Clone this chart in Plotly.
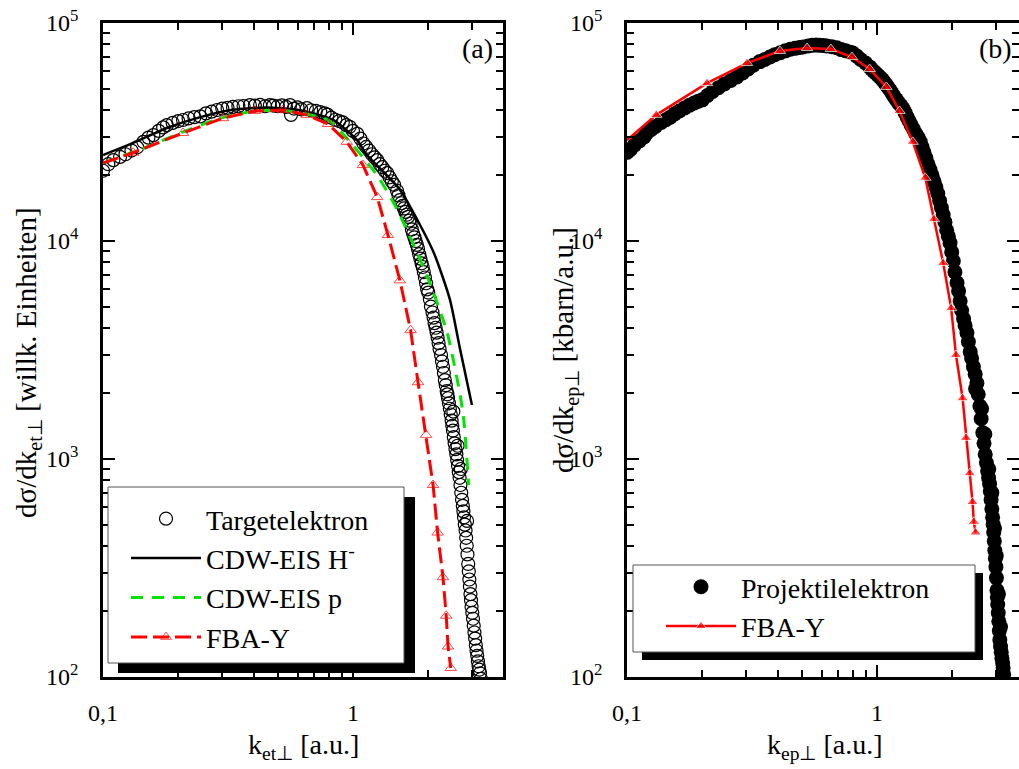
import plotly.graph_objects as go

# ---------------- data: panel (a) ----------------
target_x = [0.100, 0.105, 0.110, 0.117, 0.123, 0.130, 0.137, 0.145, 0.152, 0.159, 0.167, 0.174, 0.180, 0.190,
            0.200, 0.209, 0.220, 0.232, 0.245, 0.258, 0.272, 0.286, 0.300, 0.315, 0.331, 0.348, 0.365, 0.387,
            0.405, 0.425, 0.445, 0.465, 0.480, 0.500, 0.520, 0.540, 0.560, 0.565, 0.580, 0.600, 0.620, 0.654,
            0.680, 0.710, 0.740, 0.770, 0.790, 0.820, 0.850, 0.880, 0.910, 0.940, 0.970, 1.000, 1.040, 1.070,
            1.100, 1.130, 1.160, 1.190, 1.220, 1.250, 1.280, 1.310, 1.340, 1.370, 1.400, 1.430, 1.460, 1.500,
            1.540, 1.580, 1.620, 1.660, 1.700, 1.740, 1.780, 1.820, 1.860, 1.900, 1.940, 1.980, 2.030, 2.080,
            2.120, 2.160, 2.200, 2.250, 2.290, 2.330, 2.370, 2.400, 2.440, 2.480, 2.510, 2.550, 2.590, 2.630,
            2.670, 2.710, 2.750, 2.780, 2.820, 2.850, 2.890, 2.920, 2.950, 2.980, 3.020, 3.060, 3.100, 3.140,
            3.180, 3.220, 3.250,
            1.520, 1.560, 1.600, 1.640, 1.680, 1.720, 1.760, 1.800, 1.840, 1.880, 1.920, 1.960, 2.000, 2.050,
            2.100, 2.140, 2.180, 2.220, 2.270, 2.310, 2.350, 2.385, 2.420, 2.460, 2.495, 2.530, 2.570, 2.610,
            2.650, 2.690, 2.730, 2.765, 2.800, 2.835, 2.870, 2.905, 2.935, 2.965, 3.000, 3.040, 3.080, 3.120,
            3.160, 3.200, 2.520, 2.620, 2.700, 2.860]
target_y = [21000, 22500, 23500, 24300, 25000, 26000, 26900, 28500, 29800, 30600, 32000, 33200, 34000, 34800,
            35500, 35900, 36500, 37000, 37300, 38500, 39200, 39900, 40500, 40800, 41200, 41500, 41600, 42000,
            41800, 42100, 41500, 42000, 41800, 41500, 41900, 41200, 42000, 37900, 40500, 41000, 40200, 40700,
            39800, 39500, 39000, 38500, 38000, 36800, 36000, 35500, 35000, 34000, 33400, 32000, 31000, 29500,
            28000, 27000, 26000, 25000, 24200, 23500, 22500, 21800, 21000, 20500, 19600, 18800, 18100, 17000,
            15400, 14500, 13600, 12900, 12000, 10800, 10000, 9200, 8300, 7600, 6800, 6000, 5400, 4700,
            4200, 3800, 3400, 3000, 2650, 2300, 2050, 1900, 1700, 1500, 1350, 1180, 1050, 930,
            820, 700, 610, 540, 470, 400, 330, 280, 240, 210, 185, 160, 140, 125,
            112, 104, 98,
            16200, 14900, 14100, 13200, 12400, 11300, 10400, 9600, 8700, 7900, 7200, 6400, 5800, 5000,
            4450, 4000, 3600, 3200, 2800, 2480, 2180, 1980, 1800, 1600, 1420, 1260, 1110, 990,
            870, 760, 650, 575, 500, 435, 365, 305, 260, 225, 197, 172, 150, 132,
            118, 108, 1650, 1150, 900, 520]

cdw_h_x = [0.10, 0.132, 0.18, 0.245, 0.33, 0.45, 0.60, 0.83, 1.04, 1.13, 1.54, 2.09, 2.44, 2.68, 2.99]
cdw_h_y = [24800, 28200, 33000, 37000, 40000, 41000, 40000, 36000, 29000, 25000, 17200, 9000, 5400, 3200, 1770]

cdw_p_x = [0.10, 0.15, 0.20, 0.293, 0.41, 0.55, 0.79, 0.91, 1.25, 1.50, 1.98, 2.38, 2.75, 2.90]
cdw_p_y = [22800, 27000, 31000, 36500, 39500, 39500, 36000, 31000, 20000, 14000, 6900, 3800, 1650, 760]

fba_a_x = [0.10, 0.132, 0.209, 0.302, 0.405, 0.525, 0.654, 0.794, 0.944, 1.096, 1.25, 1.38, 1.54, 1.70,
           1.82, 1.96, 2.09, 2.18, 2.29, 2.36, 2.40, 2.46]
fba_a_y = [22800, 25400, 31300, 36600, 39500, 39900, 37900, 34400, 28500, 22300, 15900, 10650, 6600, 3900,
           2250, 1290, 760, 460, 287, 191, 138, 110]

# ---------------- data: panel (b) ----------------
proj_x = [0.100, 0.103, 0.107, 0.112, 0.117, 0.120, 0.125, 0.130, 0.137, 0.143, 0.149, 0.155, 0.162, 0.170,
          0.178, 0.186, 0.193, 0.200, 0.210, 0.220, 0.232, 0.245, 0.260, 0.275, 0.290, 0.305, 0.320, 0.340,
          0.356, 0.373, 0.390, 0.410, 0.430, 0.450, 0.470, 0.490, 0.506, 0.530, 0.550, 0.570, 0.590, 0.610,
          0.630, 0.660, 0.690, 0.720, 0.750, 0.780, 0.800, 0.830, 0.860, 0.900, 0.935, 0.970, 1.010, 1.050,
          1.090, 1.130, 1.170, 1.220, 1.270, 1.320, 1.370, 1.430, 1.490, 1.540, 1.600, 1.660, 1.720, 1.780,
          1.840, 1.900, 1.960, 2.020, 2.090, 2.150, 2.220, 2.290, 2.360, 2.430, 2.510, 2.580, 2.650, 2.710,
          2.770, 2.820, 2.860, 2.900, 2.930, 2.960, 2.990, 3.020, 3.040, 3.070, 3.100, 3.140, 3.180, 3.210,
          0.950, 0.990, 1.030, 1.070, 1.110, 1.150, 1.195, 1.245, 1.295, 1.345, 1.400, 1.460, 1.515, 1.570,
          1.630, 1.690, 1.750, 1.810, 1.870, 1.930, 1.990, 2.050, 2.120, 2.180, 2.250, 2.320, 2.390, 2.470,
          2.540, 2.610, 2.680, 2.740, 2.795, 2.840, 2.880, 2.915, 2.945, 2.975, 3.005, 3.030, 3.055, 3.085,
          3.120, 3.160, 3.195, 2.480, 2.620, 2.700, 2.800, 2.880, 2.950, 3.000, 3.060, 3.120]
proj_y = [25500, 26200, 27500, 28800, 30000, 31300, 32500, 33500, 35000, 36000, 37000, 38300, 39500, 40800,
          42000, 43000, 43800, 44400, 46500, 48500, 50500, 52500, 54500, 56500, 59000, 61500, 64000, 66500,
          68000, 69800, 71500, 73000, 74500, 75800, 76500, 77200, 77600, 78500, 79000, 79200, 79000, 78800,
          78500, 77800, 77000, 75500, 74500, 73500, 72900, 70500, 68000, 65500, 62900, 60000, 57500, 55000,
          52000, 49000, 46000, 43000, 40500, 37000, 34000, 31000, 28500, 25500, 22500, 20000, 17700, 15300,
          13200, 11200, 9800, 8100, 6430, 5300, 4400, 3790, 3100, 2650, 2230, 1750, 1320, 1050,
          880, 770, 650, 540, 460, 380, 320, 250, 215, 180, 148, 130, 116, 103,
          61500, 58800, 56200, 53500, 50500, 47500, 44500, 41800, 38800, 35500, 32500, 29800, 27000, 24000,
          21200, 18800, 16500, 14200, 12200, 10500, 8900, 7200, 5900, 4800, 4100, 3450, 2900, 2450,
          1980, 1530, 1180, 960, 820, 710, 590, 500, 420, 350, 285, 232, 197, 163,
          138, 122, 110, 2100, 1700, 1300, 900, 700, 480, 360, 240, 170]

fba_b_x = [0.10, 0.131, 0.209, 0.302, 0.409, 0.525, 0.654, 0.794, 0.935, 1.09, 1.23, 1.39, 1.56, 1.69,
           1.84, 1.98, 2.07, 2.20, 2.27, 2.35, 2.41, 2.44, 2.48]
fba_b_y = [29000, 37900, 53000, 65500, 74400, 76800, 76000, 69800, 61500, 50900, 39500, 28500, 19500, 12600,
           7930, 4920, 3000, 1900, 1250, 860, 635, 515, 460]

x_tickvals = [0.1, 1]
x_ticktext = ["0,1", "1"]
x_minor = [0.2, 0.3, 0.4, 0.5, 0.6, 0.7, 0.8, 0.9, 2, 3, 4]
y_tickvals = [1e2, 1e3, 1e4, 1e5]
y_ticktext = ["10<sup>2</sup>", "10<sup>3</sup>", "10<sup>4</sup>", "10<sup>5</sup>"]
y_minor = [m * d for d in (1e2, 1e3, 1e4) for m in (2, 3, 4, 5, 6, 7, 8, 9)]

W, H = 1019, 769
FONT = "Liberation Serif, Times New Roman, serif"
RED = "#ff0000"
GREEN = "#00e600"

fig = go.Figure()

# panel (a)
fig.add_trace(go.Scatter(x=target_x, y=target_y, mode="markers", name="Targetelektron",
                         marker=dict(symbol="circle-open", size=13, color="black", line=dict(width=1.2, color="black")),
                         xaxis="x", yaxis="y", legend="legend"))
fig.add_trace(go.Scatter(x=cdw_h_x, y=cdw_h_y, mode="lines", name="CDW-EIS H<sup>-</sup>",
                         line=dict(color="black", width=2.5, shape="spline", smoothing=0.6),
                         xaxis="x", yaxis="y", legend="legend"))
fig.add_trace(go.Scatter(x=cdw_p_x, y=cdw_p_y, mode="lines", name="CDW-EIS p",
                         line=dict(color=GREEN, width=3, dash="12px,9px", shape="spline", smoothing=0.6),
                         xaxis="x", yaxis="y", legend="legend"))
fig.add_trace(go.Scatter(x=fba_a_x, y=fba_a_y, mode="lines+markers", name="FBA-Y",
                         line=dict(color=RED, width=3, dash="16px,6px"),
                         marker=dict(symbol="triangle-up-open", size=[0] + [10] * (len(fba_a_x) - 1), color=RED,
                                     line=dict(width=1, color=RED)),
                         xaxis="x", yaxis="y", legend="legend"))

# panel (b)
fig.add_trace(go.Scatter(x=proj_x, y=proj_y, mode="markers", name="Projektilelektron",
                         marker=dict(symbol="circle", size=15, color="black"),
                         xaxis="x2", yaxis="y2", legend="legend2"))
fig.add_trace(go.Scatter(x=fba_b_x, y=fba_b_y, mode="lines+markers", name="FBA-Y",
                         line=dict(color=RED, width=2.5),
                         marker=dict(symbol="triangle-up", size=[0] + [10] * (len(fba_b_x) - 1), color=RED),
                         xaxis="x2", yaxis="y2", legend="legend2"))


def xax(domain, rng, anchor):
    return dict(type="log", domain=domain, range=rng, anchor=anchor, automargin=False,
                tickvals=x_tickvals, ticktext=x_ticktext, ticks="inside", ticklen=12, tickwidth=2,
                tickcolor="black", showline=True, linewidth=2.5, linecolor="black", mirror="allticks",
                showgrid=False, zeroline=False, ticklabelstandoff=12,
                tickfont=dict(family=FONT, size=24, color="black"),
                minor=dict(tickvals=x_minor, ticks="inside", ticklen=7, tickwidth=1.5, tickcolor="black",
                           showgrid=False))


def yax(domain, anchor):
    return dict(type="log", domain=domain, range=[2, 5], anchor=anchor, automargin=False,
                tickvals=y_tickvals, ticktext=y_ticktext, ticks="inside", ticklen=12, tickwidth=2,
                tickcolor="black", showline=True, linewidth=2.5, linecolor="black", mirror="allticks",
                showgrid=False, zeroline=False, ticklabelstandoff=17,
                tickfont=dict(family=FONT, size=24, color="black"),
                minor=dict(tickvals=y_minor, ticks="inside", ticklen=7, tickwidth=1.5, tickcolor="black",
                           showgrid=False))


def px(x):
    return x / W


def py(y):
    return 1 - y / H


ydom = [py(677), py(23)]

shapes = [
    # legend (a): shadow + box
    dict(type="rect", xref="paper", yref="paper", x0=px(118), x1=px(415), y0=py(673), y1=py(497),
         fillcolor="black", line=dict(width=0), layer="above"),
    dict(type="rect", xref="paper", yref="paper", x0=px(108), x1=px(404), y0=py(663), y1=py(487),
         fillcolor="white", line=dict(width=1, color="#555555"), layer="above"),
    # legend (b): shadow + box
    dict(type="rect", xref="paper", yref="paper", x0=px(642), x1=px(983), y0=py(660), y1=py(573),
         fillcolor="black", line=dict(width=0), layer="above"),
    dict(type="rect", xref="paper", yref="paper", x0=px(633), x1=px(975), y0=py(652), y1=py(565),
         fillcolor="white", line=dict(width=1, color="#555555"), layer="above"),
]

TF = dict(family=FONT, size=28, color="black")
TFY = dict(family=FONT, size=29, color="black")
annotations = [
    dict(text="(a)", x=px(477), y=py(48), xref="paper", yref="paper", showarrow=False, font=TF,
         xanchor="center", yanchor="middle"),
    dict(text="(b)", x=px(995), y=py(48), xref="paper", yref="paper", showarrow=False, font=TF,
         xanchor="center", yanchor="middle"),
    # axis titles
    dict(text="k<sub>et⊥</sub> [a.u.]", x=px(303), y=py(746), xref="paper", yref="paper", showarrow=False,
         font=TF, xanchor="center", yanchor="middle"),
    dict(text="k<sub>ep⊥</sub> [a.u.]", x=px(825), y=py(746), xref="paper", yref="paper", showarrow=False,
         font=TF, xanchor="center", yanchor="middle"),
    dict(text="dσ/dk<sub>et⊥</sub> [willk. Einheiten]", x=px(28), y=py(363), xref="paper", yref="paper",
         showarrow=False, font=TFY, textangle=-90, xanchor="center", yanchor="middle"),
    dict(text="dσ/dk<sub>ep⊥</sub> [kbarn/a.u.]", x=px(565), y=py(350), xref="paper", yref="paper",
         showarrow=False, font=TFY, textangle=-90, xanchor="center", yanchor="middle"),
]

fig.update_layout(
    width=W, height=H, margin=dict(l=0, r=0, t=0, b=0, autoexpand=False),
    paper_bgcolor="white", plot_bgcolor="white",
    xaxis=xax([px(103), px(503)], [-1, 0.6], "y"),
    yaxis=yax(ydom, "x"),
    xaxis2=xax([px(627), 1.0], [-1, 0.568], "y2"),
    yaxis2=yax(ydom, "x2"),
    shapes=shapes, annotations=annotations,
    legend=dict(x=px(126), y=py(494), xanchor="left", yanchor="top", bgcolor="rgba(0,0,0,0)",
                borderwidth=0, font=dict(family=FONT, size=28, color="black"), itemwidth=70,
                tracegroupgap=0),
    legend2=dict(x=px(661), y=py(562), xanchor="left", yanchor="top", bgcolor="rgba(0,0,0,0)",
                 borderwidth=0, font=dict(family=FONT, size=28, color="black"), itemwidth=70,
                 tracegroupgap=0),
    showlegend=True,
)

fig.write_html("out.html")
